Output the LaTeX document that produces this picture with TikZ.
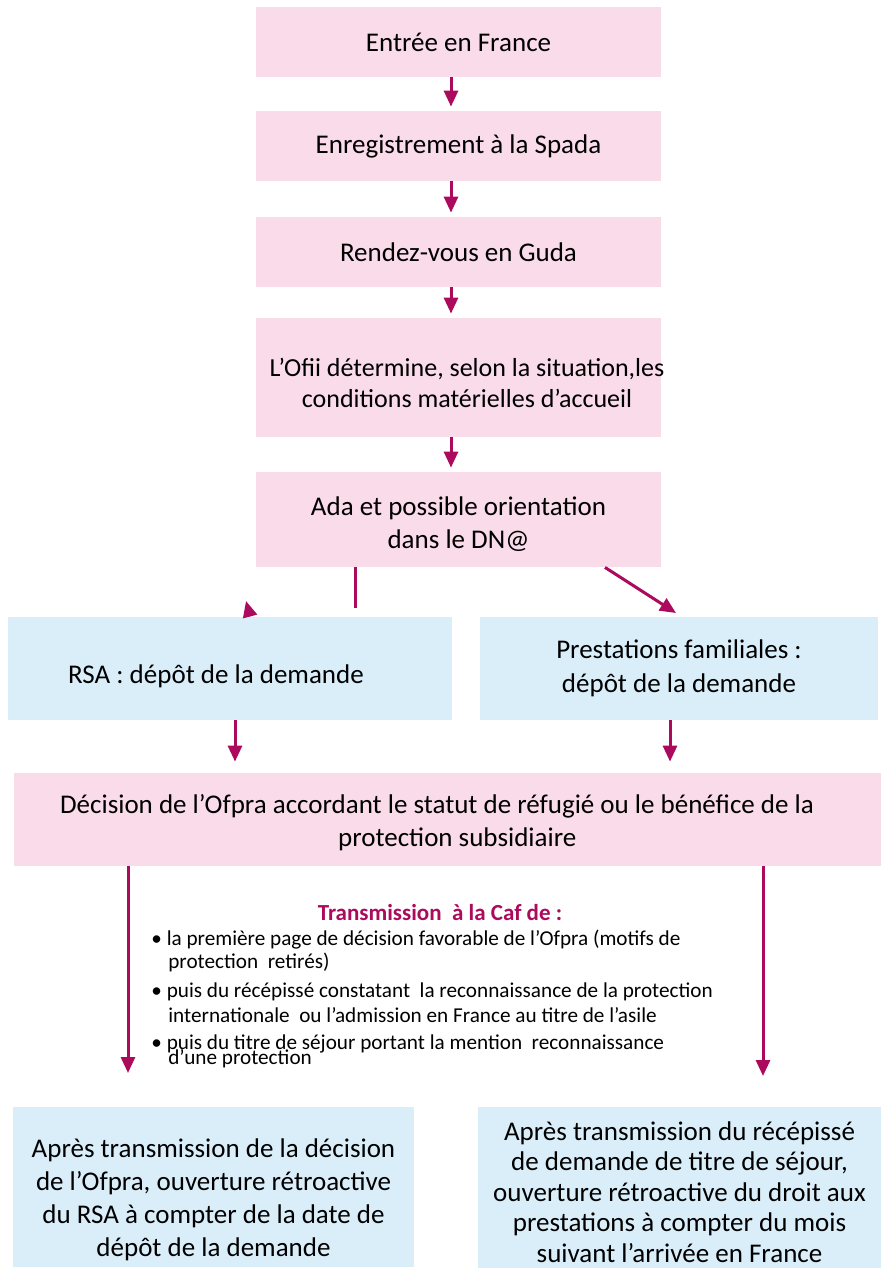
\documentclass[tikz,border=0pt]{standalone}
\usepackage{fontspec}
\setmainfont{Carlito}
\usepackage{tikz}
\usetikzlibrary{shapes, arrows.meta, positioning}
\definecolor{rose}{HTML}{F9DBEA}
\definecolor{ciel}{HTML}{DAEEFA}
\definecolor{prune}{HTML}{AC0A5C}
\tikzstyle{pinkbox} = [fill=rose, rectangle, align=center, inner sep=0pt, font=\fontsize{13.5}{17}\selectfont]
\tikzstyle{bluebox} = [fill=ciel, rectangle, align=center, inner sep=0pt, font=\fontsize{13.5}{17}\selectfont]
\tikzstyle{boxtext} = [inner sep=0pt, align=center, font=\fontsize{13.5}{16.5}\selectfont]
\tikzstyle{flow} = [draw=prune, line width=1.5pt, -{Triangle[length=8pt,width=7pt]}]

\begin{document}
\begin{tikzpicture}[x=0.5pt, y=-0.5pt]
  \useasboundingbox (0,0) rectangle (881,1268);
  % upper chain
  \node[pinkbox, minimum width=202.5pt, minimum height=35pt] (entree) at (458.5,42) {Entrée en France};
  \node[pinkbox, minimum width=202.5pt, minimum height=35pt] (spada) at (458.5,146) {Enregistrement à la Spada};
  \node[pinkbox, minimum width=202.5pt, minimum height=35pt] (guda) at (458.5,252) {Rendez-vous en Guda};
  \node[pinkbox, minimum width=202.5pt, minimum height=59.5pt] (ofii) at (458.5,377.5) {};
  \node[boxtext, font=\fontsize{13}{15.5}\selectfont] (ofiitext) at (467,383) {L’Ofii détermine, selon la situation,les\\conditions matérielles d’accueil};
  \node[pinkbox, minimum width=202.5pt, minimum height=47.5pt] (ada) at (458.5,519.5) {};
  \node[boxtext] (adatext) at (458.5,524) {Ada et possible orientation\\dans le DN@};
  % demandes
  \node[bluebox, minimum width=222pt, minimum height=51.5pt] (rsa) at (230,668.5) {};
  \node[boxtext] (rsatext) at (216,676) {RSA : dépôt de la demande};
  \node[bluebox, minimum width=199pt, minimum height=51.5pt] (prest) at (679,668.5) {Prestations familiales :\\dépôt de la demande};
  \node[pinkbox, minimum width=433.5pt, minimum height=46.5pt] (decision) at (447.5,819.5) {};
  \node[boxtext] (decisiontext) at (437,823) {Décision de l’Ofpra accordant le statut de réfugié ou le bénéfice de la\\\hspace*{1.5em}protection subsidiaire};
  % transmission
  \node[inner sep=0pt, font=\fontsize{11.5}{13}\selectfont\bfseries, text=prune] (titre) at (440,913) {Transmission \ à la Caf de :};
  \node[inner sep=0pt, anchor=north west, align=left, font=\fontsize{10.6}{11.5}\selectfont] (liste) at (151,930)
    {\textbullet\ la première page de décision favorable de l’Ofpra (motifs de\\
     \hspace*{0.8em}protection \ retirés)\\[3pt]
     \textbullet\ puis du récépissé constatant \ la reconnaissance de la protection\\[1pt]
     \hspace*{0.8em}internationale \ ou l’admission en France au titre de l’asile\\[2pt]
     \textbullet\ puis du titre de séjour portant la mention \ reconnaissance\\[-4pt]
     \hspace*{0.8em}d’une protection};
  % results
  \node[bluebox, minimum width=200.5pt, minimum height=80pt] (apresrsa) at (213.5,1187) {};
  \node[boxtext] (apresrsatext) at (213.5,1200) {Après transmission de la décision\\de l’Ofpra, ouverture rétroactive\\du RSA à compter de la date de\\dépôt de la demande};
  \node[bluebox, minimum width=201.5pt, minimum height=80.5pt] (apresprest) at (679.5,1187.5) {};
  \node[boxtext, font=\fontsize{13.5}{15.2}\selectfont] (apresprestext) at (679.5,1192) {Après transmission du récépissé\\de demande de titre de séjour,\\ouverture rétroactive du droit aux\\prestations à compter du mois\\suivant l’arrivée en France};
  % connectors
  \coordinate (cut) at (355,608);
  \coordinate (headfoot) at (250,616);
  \coordinate (headtip) at (246,601);
  \coordinate (prestin) at (676,613);
  \coordinate (rsaend) at (128,1073);
  \coordinate (prestend) at (763,1076);
  \draw[flow] (entree.south -| 451,0) -- ([yshift=2pt]spada.north -| 451,0);
  \draw[flow] (spada.south -| 451,0) -- ([yshift=2pt]guda.north -| 451,0);
  \draw[flow] (guda.south -| 451,0) -- ([yshift=2pt]ofii.north -| 451,0);
  \draw[flow] (ofii.south -| 451,0) -- ([yshift=2pt]ada.north -| 451,0);
  \draw[draw=prune, line width=1.5pt] (ada.south -| cut) -- (cut);
  \draw[flow, shorten <=-0.1pt] (headfoot) -- (headtip);
  \draw[flow] (ada.south -| 605,0) -- (prestin);
  \draw[flow] (rsa.south -| 235,0) -- ([yshift=5.5pt]decision.north -| 235,0);
  \draw[flow] (prest.south -| 670,0) -- ([yshift=5.5pt]decision.north -| 670,0);
  \draw[flow] (decision.south -| rsaend) -- (rsaend);
  \draw[flow] (decision.south -| prestend) -- (prestend);
\end{tikzpicture}
\end{document}
